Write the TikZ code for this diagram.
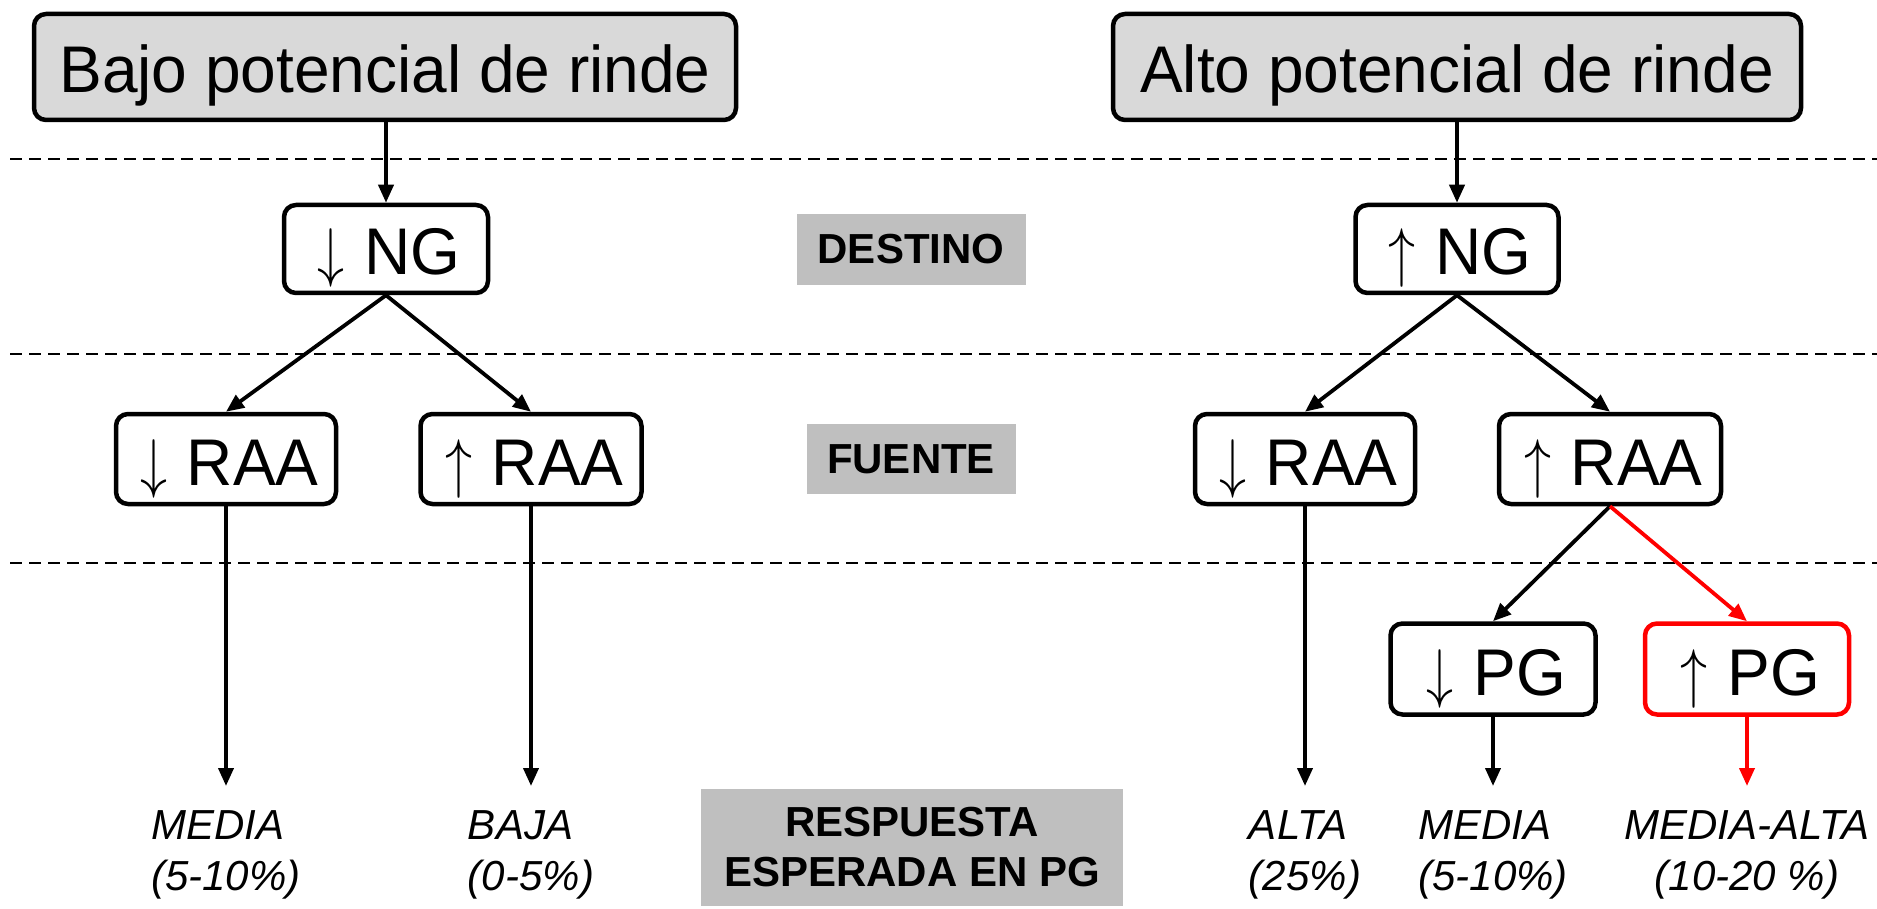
\documentclass[tikz,border=0pt]{standalone}
\usepackage{graphicx}
\usepackage{fontspec}
\setmainfont{Liberation Sans}
\newfontfamily\boxfam[FakeStretch=0.97]{Liberation Sans}
\usetikzlibrary{arrows.meta}
\definecolor{topgray}{HTML}{D9D9D9}
\definecolor{taggray}{HTML}{BFBFBF}
\definecolor{hired}{HTML}{FF0000}
% thin arrows in front of the box labels
\newcommand{\dn}{\hspace*{0.1em}\scalebox{5.4}[6.6]{\fontsize{10}{12}\selectfont$\downarrow$}\hspace{0.3em}}
\newcommand{\upw}{\hspace*{0.1em}\scalebox{5.4}[6.6]{\fontsize{10}{12}\selectfont$\uparrow$}\hspace{0.3em}}
\tikzset{
  bigtext/.style={font=\boxfam\fontsize{66}{79}\selectfont, text height=52pt, text depth=0pt},
  topbox/.style={draw, line width=4.5pt, rounded corners=12pt, fill=topgray, inner sep=0pt, bigtext},
  levelbox/.style={draw, line width=4.5pt, rounded corners=12pt, fill=white, inner sep=0pt, bigtext},
  tag/.style={fill=taggray, inner sep=0pt, align=center, font=\bfseries\fontsize{42}{50}\selectfont},
  result/.style={anchor=north, inner xsep=0pt, inner ysep=24pt, align=left, font=\itshape\fontsize{42}{51}\selectfont},
  conn/.style={line width=3.8pt, -{Triangle[length=18pt,width=15pt]}},
  sepline/.style={line width=2pt, dash pattern=on 12pt off 7pt},
}
\begin{document}
\begin{tikzpicture}[x=1pt,y=-1pt]
\useasboundingbox (0,0) rectangle (1877,909);

% horizontal separators between levels
\coordinate (s1a) at (10,159);  \coordinate (s1b) at (1877,159);
\coordinate (s2a) at (10,354);  \coordinate (s2b) at (1877,354);
\coordinate (s3a) at (10,563);  \coordinate (s3b) at (1877,563);
\draw[sepline] (s1a) -- (s1b);
\draw[sepline] (s2a) -- (s2b);
\draw[sepline] (s3a) -- (s3b);

% level tags
\node[tag, minimum width=229pt, minimum height=71pt] (destino) at (911,249.5) {DESTINO};
\node[tag, minimum width=209pt, minimum height=70pt] (fuente) at (911,459) {FUENTE};
\node[tag, minimum width=422pt, minimum height=117pt] (resp) at (912,847.5) {RESPUESTA\\ESPERADA EN PG};

% top boxes
\node[topbox, minimum width=702pt, minimum height=106pt] (bajo) at (385,67) {Bajo potencial de rinde};
\node[topbox, minimum width=688pt, minimum height=106pt] (alto) at (1457,67) {Alto potencial de rinde};

% grain number
\node[levelbox, minimum width=204pt, minimum height=88pt] (ngL) at (386,249) {\dn NG};
\node[levelbox, minimum width=203pt, minimum height=88pt] (ngR) at (1457,249) {\upw NG};

% source
\node[levelbox, minimum width=220pt, minimum height=90pt] (raaLL) at (226,459) {\dn RAA};
\node[levelbox, minimum width=221pt, minimum height=90pt] (raaLH) at (531,459) {\upw RAA};
\node[levelbox, minimum width=220pt, minimum height=90pt] (raaRL) at (1305,459) {\dn RAA};
\node[levelbox, minimum width=222pt, minimum height=90pt] (raaRH) at (1610,459) {\upw RAA};

% grain weight
\node[levelbox, minimum width=205pt, minimum height=91pt] (pgL) at (1493,669) {\dn PG};
\node[levelbox, draw=hired, minimum width=204pt, minimum height=91pt] (pgH) at (1747,669) {\upw PG};

% expected responses
\node[result] (r1) at (226,786) {MEDIA\\(5-10\%)};
\node[result] (r2) at (531,786) {BAJA\\(0-5\%)};
\node[result] (r3) at (1305,786) {ALTA\\(25\%)};
\node[result] (r4) at (1493,786) {MEDIA\\(5-10\%)};
\node[result, align=center] (r5) at (1747,786) {MEDIA-ALTA\\(10-20 \%)};

% connectors
\draw[conn] (bajo.south -| ngL.north) -- (ngL.north);
\draw[conn] (alto.south -| ngR.north) -- (ngR.north);
\draw[conn] (ngL.south) -- (raaLL.north);
\draw[conn] (ngL.south) -- (raaLH.north);
\draw[conn] (ngR.south) -- (raaRL.north);
\draw[conn] (ngR.south) -- (raaRH.north);
\draw[conn] (raaLL.south) -- (r1.north);
\draw[conn] (raaLH.south) -- (r2.north);
\draw[conn] (raaRL.south) -- (r3.north);
\draw[conn] (raaRH.south) -- (pgL.north);
\draw[conn, hired] (raaRH.south) -- (pgH.north);
\draw[conn] (pgL.south) -- (r4.north);
\draw[conn, hired] (pgH.south) -- (r5.north);
\end{tikzpicture}
\end{document}
